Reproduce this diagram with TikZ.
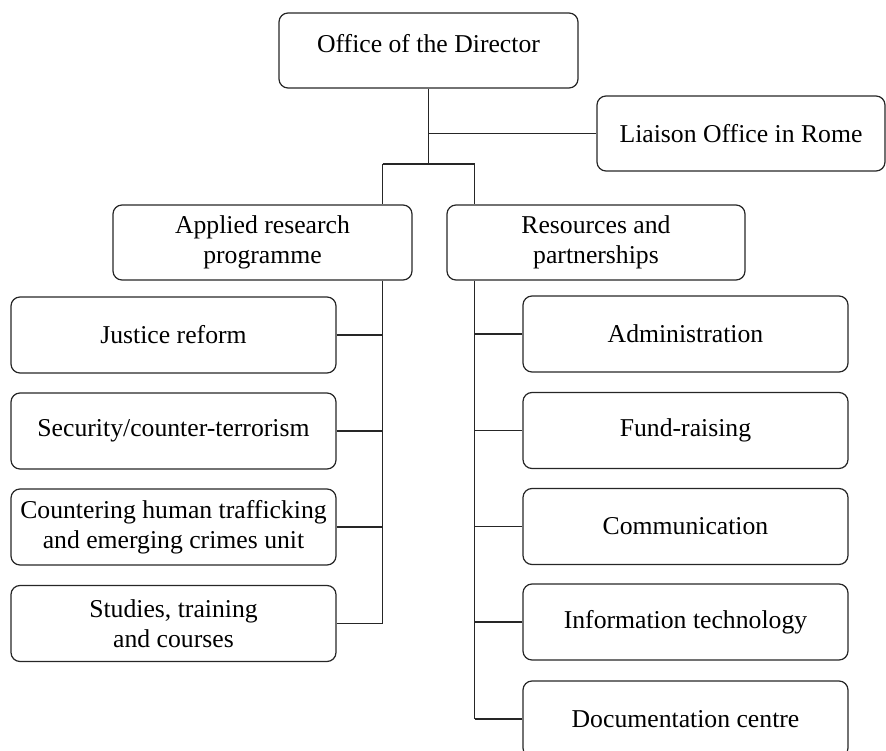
\documentclass[tikz,border=0pt]{standalone}
\usepackage{fontspec}
\setmainfont{Liberation Serif}
\begin{document}
\begin{tikzpicture}[x=1pt,y=-1pt,
  unit/.style={draw=black!85, line width=1.2pt, rounded corners=9pt,
    align=center, inner sep=0pt, minimum height=75pt,
    font=\fontsize{25.7}{30}\selectfont},
  conn/.style={draw=black!85, line width=1.2pt}]
\useasboundingbox (0,0) rectangle (886,751);

% top level
\node[unit, minimum width=299pt, text depth=14pt] (dir) at (428.5,50.5) {Office of the Director};
\node[unit, minimum width=288pt] (liaison) at (741,133.5) {Liaison Office in Rome};

% the two programme heads
\node[unit, minimum width=299pt] (applied) at (262.5,242.5) {Applied research\\programme};
\node[unit, minimum width=298pt] (resources) at (596,242.5) {Resources and\\partnerships};

% applied research units
\node[unit, minimum width=325pt, minimum height=76pt] (justice) at (173.5,335) {Justice reform};
\node[unit, minimum width=325pt, minimum height=76pt] (security) at (173.5,431) {Security/counter-terrorism};
\node[unit, minimum width=325pt, minimum height=76pt] (trafficking) at (173.5,527) {Countering human trafficking\\and emerging crimes unit};
\node[unit, minimum width=325pt, minimum height=76pt] (studies) at (173.5,623.5) {Studies, training\\and courses};

% resources and partnerships units
\node[unit, minimum width=325pt, minimum height=76pt] (admin) at (685.5,334) {Administration};
\node[unit, minimum width=325pt, minimum height=76pt] (fund) at (685.5,430.5) {Fund-raising};
\node[unit, minimum width=325pt, minimum height=76pt] (comm) at (685.5,526.5) {Communication};
\node[unit, minimum width=325pt, minimum height=76pt] (it) at (685.5,622) {Information technology};
\node[unit, minimum width=325pt, minimum height=76pt] (doc) at (685.5,719) {Documentation centre};

% junction points
\coordinate (hub) at (428.5,164);
\coordinate (lbus) at (382.5,164);
\coordinate (rbus) at (474.5,164);

% director to the rest
\draw[conn] (dir.south) -- (hub);
\draw[conn] (dir.south |- liaison.west) -- (liaison.west);
\draw[conn] (lbus) -- (rbus);
\draw[conn] (lbus) -- (lbus |- applied.north);
\draw[conn] (rbus) -- (rbus |- resources.north);

% left trunk and branches
\draw[conn] (lbus |- applied.south) -- (lbus |- studies.east);
\foreach \n in {justice,security,trafficking,studies}
  \draw[conn] (\n.east) -- (\n.east -| lbus);

% right trunk and branches
\draw[conn] (rbus |- resources.south) -- (rbus |- doc.west);
\foreach \n in {admin,fund,comm,it,doc}
  \draw[conn] (\n.west) -- (\n.west -| rbus);
\end{tikzpicture}
\end{document}
